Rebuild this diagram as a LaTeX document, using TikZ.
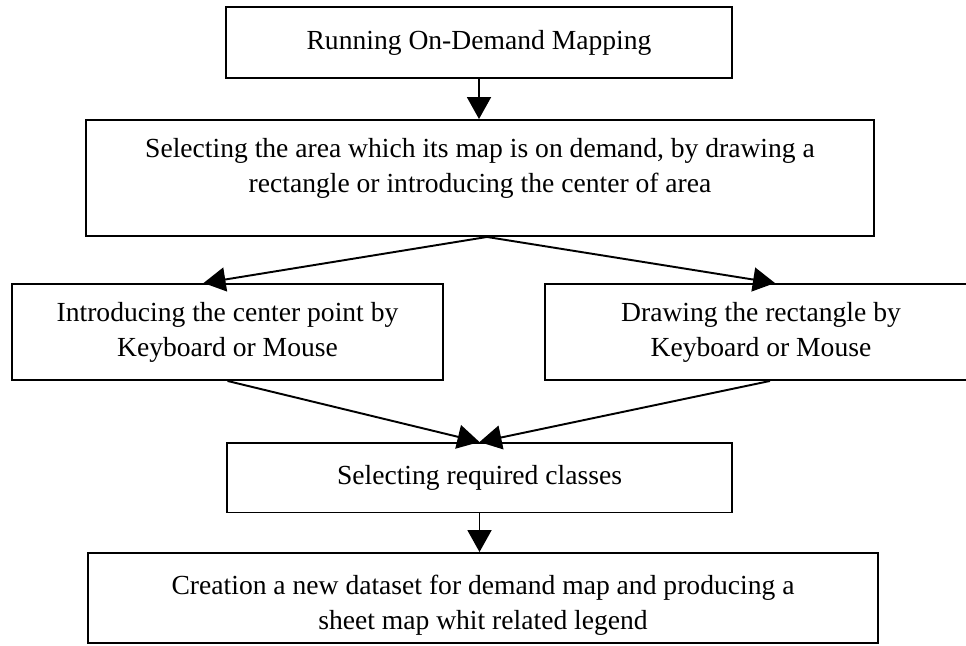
\documentclass[tikz,border=0pt]{standalone}
\usepackage{fontspec}
\setmainfont{Liberation Serif}
\usepackage{tikz}
\usetikzlibrary{arrows.meta,shapes,positioning}
\tikzstyle{arrow} = [line width=1.1pt,-{Triangle[length=0.44cm,width=0.48cm]},color=black]
\tikzstyle{process} = [rectangle, minimum width=10cm, minimum height=1.4cm, text centered, align=center, draw=black, line width=1.1pt, font=\fontsize{15.7}{19.9}\selectfont]

\begin{document}
\begin{tikzpicture}
    \useasboundingbox (0,0) rectangle (19.32,12.9);

    % Start
    \node[process, minimum width=10.12cm, minimum height=1.42cm] (run) at (9.58, 12.05) {Running On-Demand Mapping};

    % Area selection
    \node[process, minimum width=15.76cm, minimum height=2.32cm, text depth=0.5cm] (area) at (9.60, 9.34) {Selecting the area which its map is on demand, by drawing a\\ rectangle or introducing the center of area};

    % Two ways
    \node[process, minimum width=8.62cm, minimum height=1.92cm] (center) at (4.55, 6.26) {Introducing the center point by\\ Keyboard or Mouse};
    \node[process, minimum width=8.64cm, minimum height=1.92cm] (rect) at (15.22, 6.26) {Drawing the rectangle by\\ Keyboard or Mouse};

    % Classes
    \node[process, minimum width=10.1cm, minimum height=1.39cm] (classes) at (9.59, 3.345) {Selecting required classes};

    % Output
    \node[process, minimum width=15.8cm, minimum height=1.8cm, text height=1.36cm] (dataset) at (9.66, 0.94) {Creation a new dataset for demand map and producing a\\ sheet map whit related legend};

    % Arrows
    \draw[arrow] (run.south) -- (run.south |- area.north);
    \draw[arrow] ([xshift=0.14cm]area.south) -- ([xshift=-0.48cm]center.north);
    \draw[arrow] ([xshift=0.14cm]area.south) -- ([xshift=0.28cm]rect.north);
    \draw[arrow] (center.south) -- (classes.north);
    \draw[arrow] ([xshift=0.18cm]rect.south) -- (classes.north);
    \draw[arrow] (classes.south) -- (classes.south |- dataset.north);
\end{tikzpicture}
\end{document}
